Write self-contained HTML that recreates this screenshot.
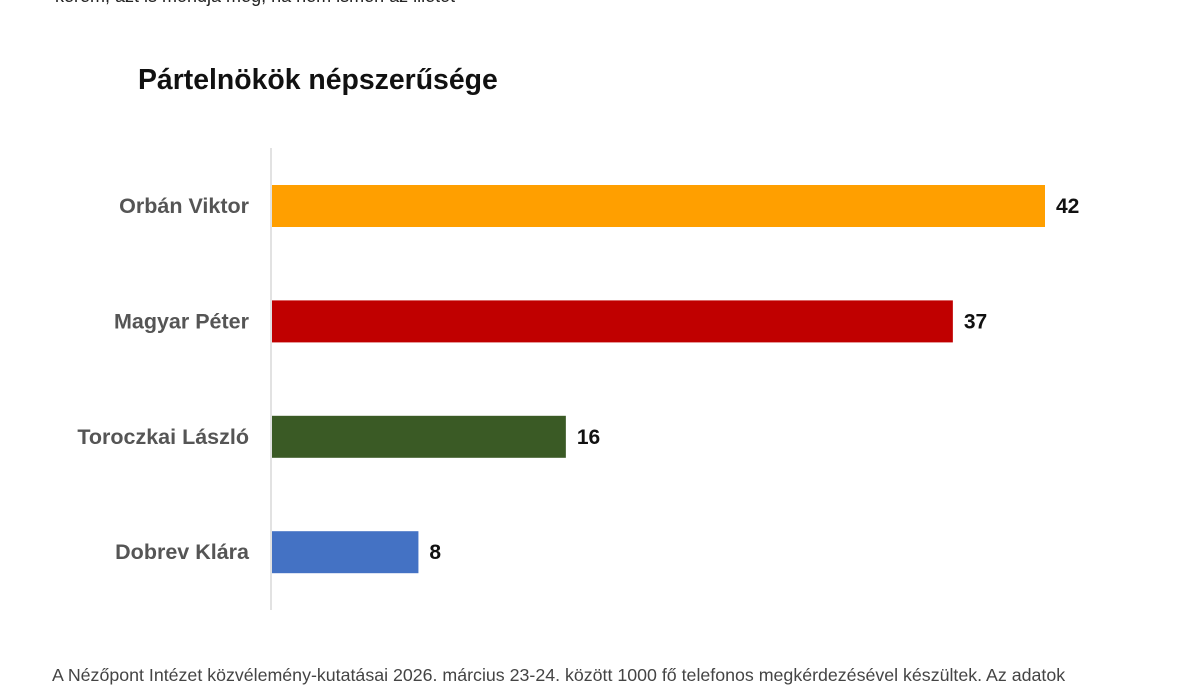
<!DOCTYPE html>
<html><head><meta charset="utf-8">
<style>
body{margin:0;width:1200px;height:675px;background:#fff;overflow:hidden;position:relative;font-family:"Liberation Sans",Arial,sans-serif}
.t{position:absolute;white-space:nowrap}
</style></head><body>
<div class="t" style="left:55px;top:-14px;font-size:18px;color:#222">kérem, azt is mondja meg, ha nem ismeri az illetőt</div>
<div class="t" style="left:138px;top:64px;font-size:28.4px;font-weight:bold;color:#111">Pártelnökök népszerűsége</div>
<div class="t" style="left:52px;top:665px;font-size:17.8px;color:#444">A Nézőpont Intézet közvélemény-kutatásai 2026. március 23-24. között 1000 fő telefonos megkérdezésével készültek. Az adatok</div>
<svg id="c" width="1200" height="675" style="position:absolute;left:0;top:0"></svg>
<script>
const categories=["Orbán Viktor","Magyar Péter","Toroczkai László","Dobrev Klára"];
const values=[42,37,16,8];
const colors=["#FF9F00","#C00000","#3A5A25","#4472C4"];
const svg=document.getElementById('c');const NS="http://www.w3.org/2000/svg";
const x0=271,scale=774/42;const x=v=>x0+v*scale;
const y=i=>206+i*115.4;
const ax=document.createElementNS(NS,'line');


ax.setAttribute('x1',x0);ax.setAttribute('x2',x0);ax.setAttribute('y1',148);ax.setAttribute('y2',610);ax.setAttribute('stroke','#d9d9d9');ax.setAttribute('stroke-width',1.5);svg.appendChild(ax);
categories.forEach((c,i)=>{
 const r=document.createElementNS(NS,'rect');
 
 
 r.setAttribute('x',x0+1);r.setAttribute('y',y(i)-21);r.setAttribute('width',x(values[i])-x0-1);r.setAttribute('height',42);r.setAttribute('fill',colors[i]);svg.appendChild(r);
 const l=document.createElementNS(NS,'text');
 
 
 l.setAttribute('x',249);l.setAttribute('y',y(i)+7);l.setAttribute('text-anchor','end');l.setAttribute('font-size',21.5);l.setAttribute('font-weight','bold');l.setAttribute('fill','#555');l.setAttribute('font-family','Liberation Sans, sans-serif');l.textContent=c;svg.appendChild(l);
 const v=document.createElementNS(NS,'text');
 
 
 v.setAttribute('x',x(values[i])+11);v.setAttribute('y',y(i)+7);v.setAttribute('font-size',21);v.setAttribute('font-weight','bold');v.setAttribute('fill','#111');v.setAttribute('font-family','Liberation Sans, sans-serif');v.textContent=values[i];svg.appendChild(v);
});
</script>
</body></html>
